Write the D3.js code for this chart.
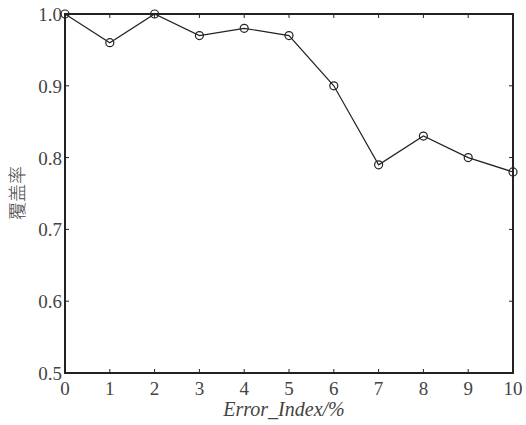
<!DOCTYPE html>
<html>
<head>
<meta charset="utf-8">
<script src="https://cdn.jsdelivr.net/npm/d3@7"></script>
<style>
  body { margin: 0; background: #fff; }
  text { font-family: "Liberation Serif", "DejaVu Serif", serif; fill: #444; }
</style>
</head>
<body>
<script>
// Data
var errorIndex = [0, 1, 2, 3, 4, 5, 6, 7, 8, 9, 10];
var coverage = [1.0, 0.96, 1.0, 0.97, 0.98, 0.97, 0.90, 0.79, 0.83, 0.80, 0.78];
var yTicks = [0.5, 0.6, 0.7, 0.8, 0.9, 1.0];
var xTicks = [0, 1, 2, 3, 4, 5, 6, 7, 8, 9, 10];

var width = 526, height = 425;
var plotLeft = 65, plotRight = 513, plotTop = 14, plotBottom = 373;

var svg = d3.select("body").append("svg")
    .attr("width", width)
    .attr("height", height);

var x = d3.scaleLinear().domain([0, 10]).range([plotLeft, plotRight]);
var y = d3.scaleLinear().domain([0.5, 1.0]).range([plotBottom, plotTop]);

// Inward ticks on all four sides
var tickLen = 4;
xTicks.forEach(function(t) {
  svg.append("line").attr("x1", x(t)).attr("x2", x(t))
      .attr("y1", plotBottom).attr("y2", plotBottom - tickLen)
      .attr("stroke", "#222").attr("stroke-width", 1);
  svg.append("line").attr("x1", x(t)).attr("x2", x(t))
      .attr("y1", plotTop).attr("y2", plotTop + tickLen)
      .attr("stroke", "#222").attr("stroke-width", 1);
  svg.append("text")
      .attr("x", x(t)).attr("y", plotBottom + 22)
      .attr("text-anchor", "middle")
      .style("font-size", "19px")
      .text(t);
});

yTicks.forEach(function(t) {
  svg.append("line").attr("x1", plotLeft).attr("x2", plotLeft + tickLen)
      .attr("y1", y(t)).attr("y2", y(t))
      .attr("stroke", "#222").attr("stroke-width", 1);
  svg.append("line").attr("x1", plotRight).attr("x2", plotRight - tickLen)
      .attr("y1", y(t)).attr("y2", y(t))
      .attr("stroke", "#222").attr("stroke-width", 1);
  svg.append("text")
      .attr("x", plotLeft - 3).attr("y", y(t) + 7)
      .attr("text-anchor", "end")
      .style("font-size", "19px")
      .text(d3.format(".1f")(t));
});

// Frame
svg.append("rect")
    .attr("x", plotLeft).attr("y", plotTop)
    .attr("width", plotRight - plotLeft).attr("height", plotBottom - plotTop)
    .attr("fill", "none")
    .attr("stroke", "#222")
    .attr("stroke-width", 2);

// Line + markers
var line = d3.line()
    .x(function(d, i) { return x(errorIndex[i]); })
    .y(function(d) { return y(d); });

svg.append("path")
    .datum(coverage)
    .attr("d", line)
    .attr("fill", "none")
    .attr("stroke", "#222")
    .attr("stroke-width", 1.2);

svg.selectAll("circle.pt")
    .data(coverage)
  .enter().append("circle")
    .attr("class", "pt")
    .attr("cx", function(d, i) { return x(errorIndex[i]); })
    .attr("cy", function(d) { return y(d); })
    .attr("r", 4)
    .attr("fill", "none")
    .attr("stroke", "#222")
    .attr("stroke-width", 1.2);

// Axis labels
svg.append("text")
    .attr("x", (plotLeft + plotRight) / 2 - 5).attr("y", 416)
    .attr("text-anchor", "middle")
    .style("font-size", "20px")
    .style("font-style", "italic")
    .text("Error_Index/%");

svg.append("text")
    .attr("transform", "translate(24,193) rotate(-90)")
    .attr("text-anchor", "middle")
    .style("font-family", "'Noto Sans CJK SC', sans-serif")
    .style("font-weight", "300")
    .style("font-size", "18px")
    .text("覆盖率");
</script>
</body>
</html>
